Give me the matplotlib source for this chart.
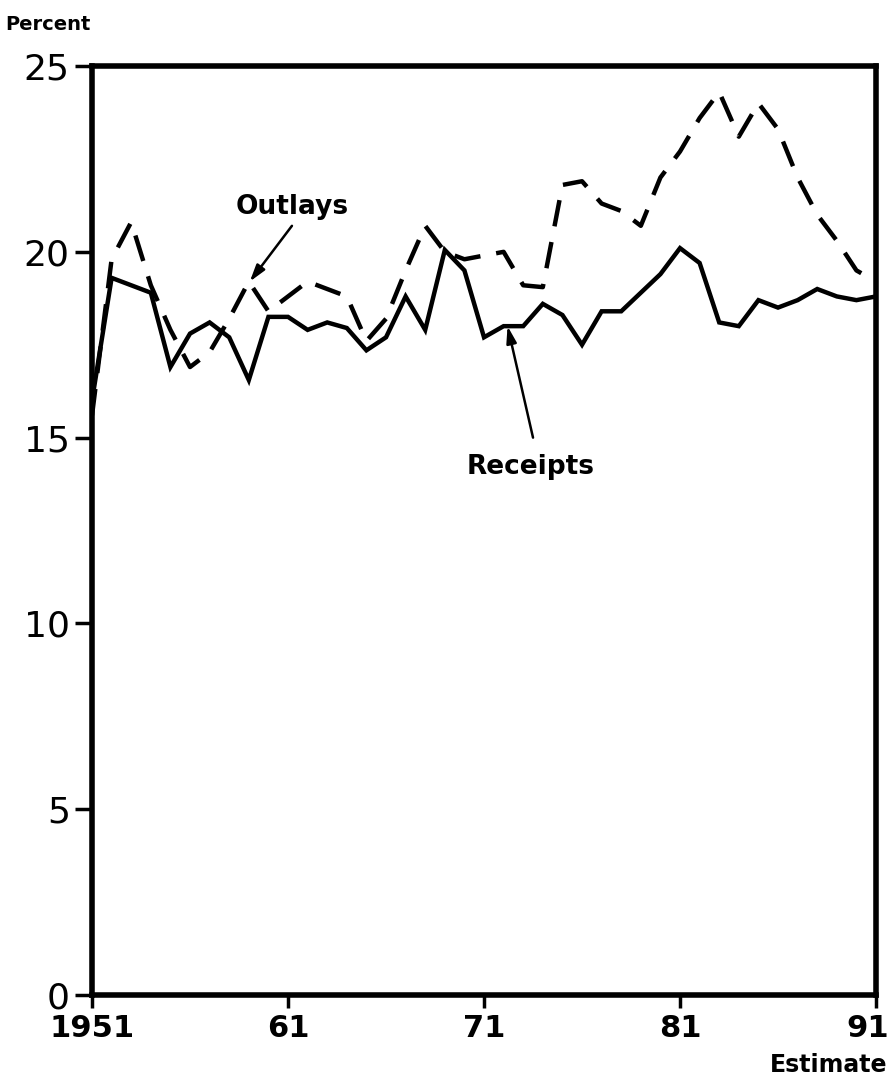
import matplotlib
matplotlib.use("Agg")
import matplotlib.pyplot as plt
import matplotlib.transforms as mtransforms

years = list(range(1951, 1992))
receipts = [16.0, 19.3, 19.1, 18.9, 16.9, 17.8, 18.1, 17.7, 16.55, 18.25,
            18.25, 17.9, 18.1, 17.95, 17.35, 17.7, 18.8, 17.9, 20.05, 19.5,
            17.7, 18.0, 18.0, 18.6, 18.3, 17.5, 18.4, 18.4, 18.9, 19.4,
            20.1, 19.7, 18.1, 18.0, 18.7, 18.5, 18.7, 19.0, 18.8, 18.7, 18.8]
outlays = [15.6, 19.8, 20.8, 19.1, 17.9, 16.9, 17.3, 18.2, 19.2, 18.4,
           18.8, 19.2, 19.0, 18.8, 17.6, 18.2, 19.5, 20.7, 20.0, 19.8,
           19.9, 20.0, 19.1, 19.05, 21.8, 21.9, 21.3, 21.1, 20.7, 22.0,
           22.7, 23.6, 24.3, 23.1, 24.0, 23.3, 22.0, 21.0, 20.3, 19.5, 19.2]
xticks = [1951, 1961, 1971, 1981, 1991]
xticklabels = ["1951", "61", "71", "81", "91"]
yticks = [0, 5, 10, 15, 20, 25]

fig = plt.figure(figsize=(8.96, 10.79), dpi=100)
ax = fig.add_axes([0.1027, 0.0778, 0.875, 0.861])

ax.plot(years, receipts, color="black", lw=3.2, solid_joinstyle="miter")
ax.plot(years, outlays, color="black", lw=3.2, linestyle=(0, (6, 3.6)))

ax.set_xlim(1951, 1991)
ax.set_ylim(0, 25)
ax.set_xticks(xticks)
ax.set_xticklabels(xticklabels)
ax.set_yticks(yticks)
for s in ax.spines.values():
    s.set_linewidth(4.0)
ax.tick_params(axis="y", direction="out", length=12, width=2.5,
               labelsize=26, pad=4)
ax.tick_params(axis="x", direction="out", length=9, width=2.5,
               labelsize=22, pad=5)
xlabs = ax.get_xticklabels()
for lab in xlabs:
    lab.set_fontweight("bold")
shift = mtransforms.ScaledTranslation(-8 / 100, 0, fig.dpi_scale_trans)
xlabs[-1].set_transform(xlabs[-1].get_transform() + shift)

ax.text(-0.111, 1.045, "Percent", transform=ax.transAxes, fontsize=14,
        fontweight="bold", ha="left", va="center")
ax.text(1991.6, -1.55, "Estimate", fontsize=17, fontweight="bold",
        ha="right", va="top")

arrow_style = dict(arrowstyle="-|>,head_length=1.0,head_width=0.3",
                   color="black", lw=1.8, shrinkA=0, shrinkB=0)
ax.text(1961.2, 21.2, "Outlays", fontsize=19, fontweight="bold",
        ha="center", va="center")
ax.annotate("", xy=(1959.05, 19.2), xytext=(1961.2, 20.7),
            arrowprops=arrow_style)
ax.text(1973.4, 14.2, "Receipts", fontsize=19, fontweight="bold",
        ha="center", va="center")
ax.annotate("", xy=(1972.2, 18.0), xytext=(1973.5, 15.0),
            arrowprops=arrow_style)

fig.savefig("out.png", dpi=100)
